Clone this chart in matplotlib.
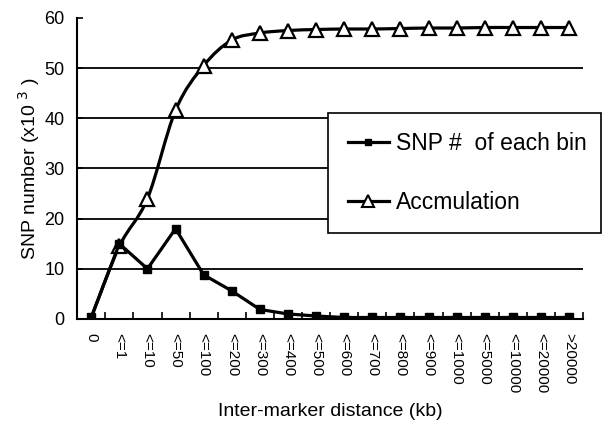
import matplotlib
matplotlib.use('Agg')
import matplotlib.pyplot as plt
from matplotlib.path import Path
from matplotlib.patches import PathPatch
from matplotlib.lines import Line2D
import numpy as np

plt.rcParams['font.family'] = ['Liberation Sans', 'DejaVu Sans']

# data (x10^3 SNPs)
categories = ['0', '<=1', '<=10', '<=50', '<=100', '<=200', '<=300', '<=400',
              '<=500', '<=600', '<=700', '<=800', '<=900', '<=1000', '<=5000',
              '<=10000', '<=20000', '>20000']
snp_per_bin = [0.3, 15.0, 10.0, 18.0, 8.8, 5.6, 1.9, 1.0, 0.6, 0.3, 0.3, 0.3,
               0.3, 0.3, 0.3, 0.3, 0.3, 0.3]
accumulation = [0.3, 14.5, 24.0, 41.6, 50.5, 55.6, 57.0, 57.5, 57.7, 57.8,
                57.8, 57.9, 58.0, 58.0, 58.1, 58.1, 58.1, 58.1]
y_ticks = [0, 10, 20, 30, 40, 50, 60]


def smooth_path(xs, ys):
    """Excel-like smoothed line: cubic Bezier through every point."""
    pts = np.column_stack([xs, ys])
    verts = [pts[0]]
    codes = [Path.MOVETO]
    n = len(pts)
    for i in range(n - 1):
        p0 = pts[max(i - 1, 0)]
        p1 = pts[i]
        p2 = pts[i + 1]
        p3 = pts[min(i + 2, n - 1)]
        c1 = p1 + (p2 - p0) / 6.0
        c2 = p2 - (p3 - p1) / 6.0
        verts += [c1, c2, p2]
        codes += [Path.CURVE4] * 3
    return Path(verts, codes)


fig = plt.figure(figsize=(6.03, 4.28), dpi=100)
ax = fig.add_axes([0.128, 0.2547, 0.839, 0.7033])

x = np.arange(len(categories))

for yv in y_ticks[1:-1]:
    ax.axhline(yv, color='black', linewidth=1.3, zorder=1)

# accumulation: smoothed line with open triangles
ax.add_patch(PathPatch(smooth_path(x, accumulation), facecolor='none',
                       edgecolor='black', linewidth=2.3, zorder=3))
ax.plot(x, accumulation, linestyle='none', marker='^', markersize=10,
        markerfacecolor='white', markeredgecolor='black', markeredgewidth=1.6,
        markevery=range(1, len(categories)), zorder=4)

# per-bin counts: straight segments with filled squares
ax.plot(x, snp_per_bin, color='black', linewidth=2.3, marker='s',
        markersize=6, zorder=5)

ax.set_xlim(-0.5, len(categories) - 0.5)
ax.set_ylim(0, 60)
ax.set_yticks(y_ticks)
ax.set_xticks(x)
ax.set_xticklabels(categories, rotation=-90, fontsize=11)
ax.set_xticks(np.arange(len(categories) + 1) - 0.5, minor=True)
ax.tick_params(axis='x', which='major', length=0, pad=10)
ax.tick_params(axis='x', which='minor', direction='in', length=5, width=1.2)
ax.tick_params(axis='y', direction='in', length=4, width=1.2, labelsize=13, pad=9)

for side in ['top', 'right']:
    ax.spines[side].set_visible(False)
for side in ['left', 'bottom']:
    ax.spines[side].set_linewidth(1.5)

ax.set_xlabel('Inter-marker distance (kb)', fontsize=14, labelpad=7)
ax.set_ylabel('SNP number (x10 $^{3}$ )', fontsize=14, labelpad=2)

handles = [
    Line2D([], [], color='black', linewidth=2.3, marker='s', markersize=5),
    Line2D([], [], color='black', linewidth=2.3, marker='^', markersize=9,
           markerfacecolor='white', markeredgewidth=1.5),
]
leg = ax.legend(handles, ['SNP #  of each bin', 'Accmulation'],
                loc='upper left', bbox_to_anchor=(0.544, 0.736, 0.453, 0),
                bbox_transform=fig.transFigure, mode='expand',
                fontsize=16.5, frameon=True, fancybox=False, framealpha=1,
                handlelength=1.8, labelspacing=1.55, borderpad=0.85,
                handletextpad=0.3, borderaxespad=0)
leg.get_frame().set_edgecolor('black')
leg.get_frame().set_linewidth(1.2)
leg.set_zorder(10)

fig.savefig('out.png', dpi=100)
